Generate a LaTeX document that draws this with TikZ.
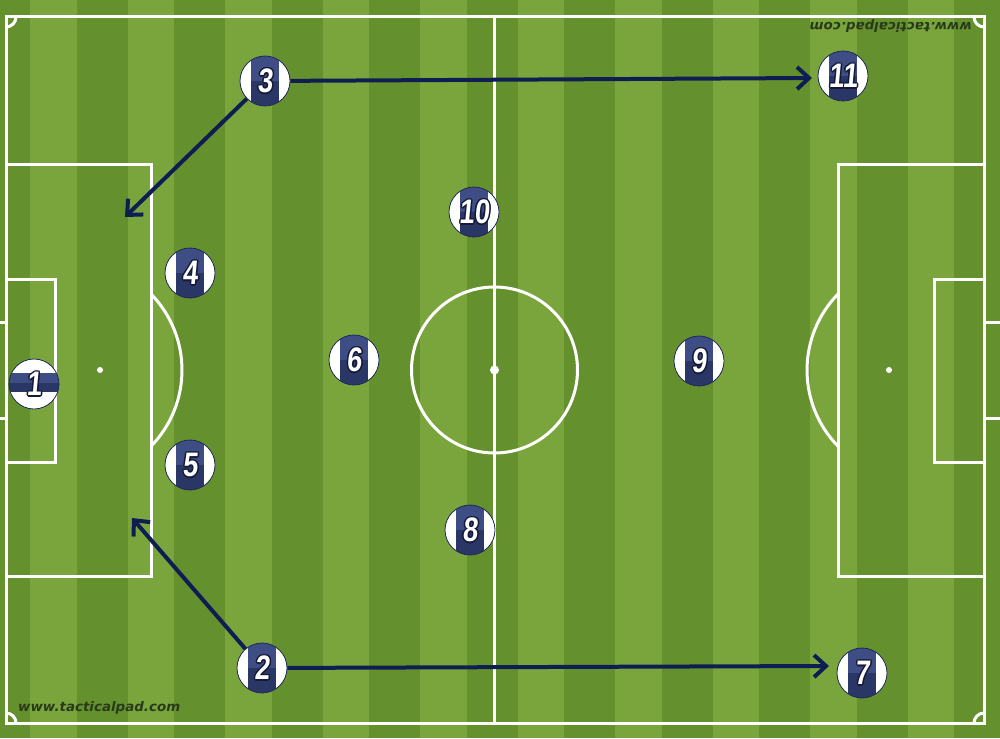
\documentclass[tikz,border=0pt]{standalone}
\usepackage{fontspec}
\usetikzlibrary{arrows.meta,calc}
\newfontfamily\numfont[FakeSlant=0.12]{Liberation Sans Bold}
\newfontfamily\wmfont{DejaVu Sans}
\definecolor{grassL}{RGB}{122,165,60}
\definecolor{grassD}{RGB}{101,144,46}
\definecolor{bandT}{RGB}{62,77,132}
\definecolor{bandB}{RGB}{42,55,102}
\definecolor{tokedge}{RGB}{30,40,85}
\definecolor{numedge}{RGB}{20,26,55}
\definecolor{arrowc}{RGB}{14,30,82}
\definecolor{wmc}{RGB}{40,58,26}
\newcommand\olcp[2]{\rlap{\hspace*{#1}\raisebox{#2}{\textcolor{numedge}{\copy0}}}}
\newcommand\olnum[1]{\setbox0=\hbox{\scalebox{0.8}[1]{\fontsize{34}{34}\numfont #1}}%
\olcp{1.5pt}{0pt}\olcp{-1.5pt}{0pt}\olcp{0pt}{1.5pt}\olcp{0pt}{-1.5pt}%
\olcp{1.1pt}{1.1pt}\olcp{-1.1pt}{1.1pt}\olcp{1.1pt}{-1.1pt}\olcp{-1.1pt}{-1.1pt}\textcolor{white}{\copy0}}
\tikzset{
  pitchline/.style={white, line width=3pt},
  tokenbase/.style={circle, draw=tokedge, line width=0.8pt, fill=white, minimum size=50pt, inner sep=0pt},
  player/.style={tokenbase, path picture={
    \fill[bandT] ($(path picture bounding box.center)+(-14,-30)$) rectangle ($(path picture bounding box.center)+(14,0)$);
    \fill[bandB] ($(path picture bounding box.center)+(-14,0)$) rectangle ($(path picture bounding box.center)+(14,30)$);}},
  keeper/.style={tokenbase, path picture={
    \fill[bandT] ($(path picture bounding box.center)+(-30,-11)$) rectangle ($(path picture bounding box.center)+(30,-1)$);
    \fill[bandB] ($(path picture bounding box.center)+(-30,-1)$) rectangle ($(path picture bounding box.center)+(30,8)$);}},
  pass/.style={arrowc, line width=4pt, -{Straight Barb[length=12pt,width=22pt]}},
  watermark/.style={text=wmc, inner sep=0pt, anchor=base west, font=\wmfont\bfseries\itshape}
}
\begin{document}
\begin{tikzpicture}[x=1pt,y=-1pt]
\useasboundingbox (0,0) rectangle (1000,738);
% grass
\fill[grassL] (0,0) rectangle (1000,738);
\foreach \i in {0,...,10} \fill[grassD] ({-21+97.5*\i},0) rectangle ({30+97.5*\i},738);
% pitch markings
\draw[pitchline] (6,17) rectangle (984,723);
\draw[pitchline] (16,17) arc[start angle=0,end angle=-90,radius=10pt];
\draw[pitchline] (974,17) arc[start angle=180,end angle=270,radius=10pt];
\draw[pitchline] (16,723) arc[start angle=0,end angle=90,radius=10pt];
\draw[pitchline] (974,723) arc[start angle=180,end angle=90,radius=10pt];
\draw[pitchline] (494.5,17) -- (494.5,723);
\draw[pitchline] (494.5,370) circle[radius=83pt];
\fill[white] (494.5,370) circle[radius=4.5pt];
% left end
\draw[pitchline] (6,165) rectangle (151,576);
\draw[pitchline] (6,279) rectangle (55,462);
\fill[white] (100,370) circle[radius=3pt];
\draw[pitchline] (151,294) arc[start angle=44.3,end angle=-44.3,radius=109pt];
\draw[pitchline] (0,322) -- (6,322);
\draw[pitchline] (0,418) -- (6,418);
% right end
\draw[pitchline] (838,165) rectangle (984,576);
\draw[pitchline] (934,279) rectangle (984,462);
\fill[white] (889,370) circle[radius=3pt];
\draw[pitchline] (838,294) arc[start angle=135.7,end angle=224.3,radius=109pt];
\draw[pitchline] (984,322) -- (1000,322);
\draw[pitchline] (984,418) -- (1000,418);
% watermarks
\node[watermark] (wm1) at (18,711) {\resizebox{162pt}{10pt}{www.tacticalpad.com}};
\node[watermark, rotate=180] (wm2) at (972,23) {\resizebox{162pt}{10pt}{www.tacticalpad.com}};
% players
\node[keeper] (p1) at (34,384) {\olnum{1}};
\node[player] (p2) at (262,668) {\olnum{2}};
\node[player] (p3) at (265,81) {\olnum{3}};
\node[player] (p4) at (190,273) {\olnum{4}};
\node[player] (p5) at (190,465) {\olnum{5}};
\node[player] (p6) at (354,360) {\olnum{6}};
\node[player] (p7) at (862,673) {\olnum{7}};
\node[player] (p8) at (470,530) {\olnum{8}};
\node[player] (p9) at (699,361) {\olnum{9}};
\node[player] (p10) at (474,212) {\olnum{10}};
\node[player] (p11) at (843,76) {\olnum{11}};
% passes
\coordinate (t1) at (125,217);
\coordinate (t2) at (132,518);
\coordinate (t3) at (812,78);
\coordinate (t4) at (829,666);
\draw[pass] (p3) -- (t1);
\draw[pass] (p2) -- (t2);
\draw[pass] (p3) -- (t3);
\draw[pass] (p2) -- (t4);
\end{tikzpicture}
\end{document}
